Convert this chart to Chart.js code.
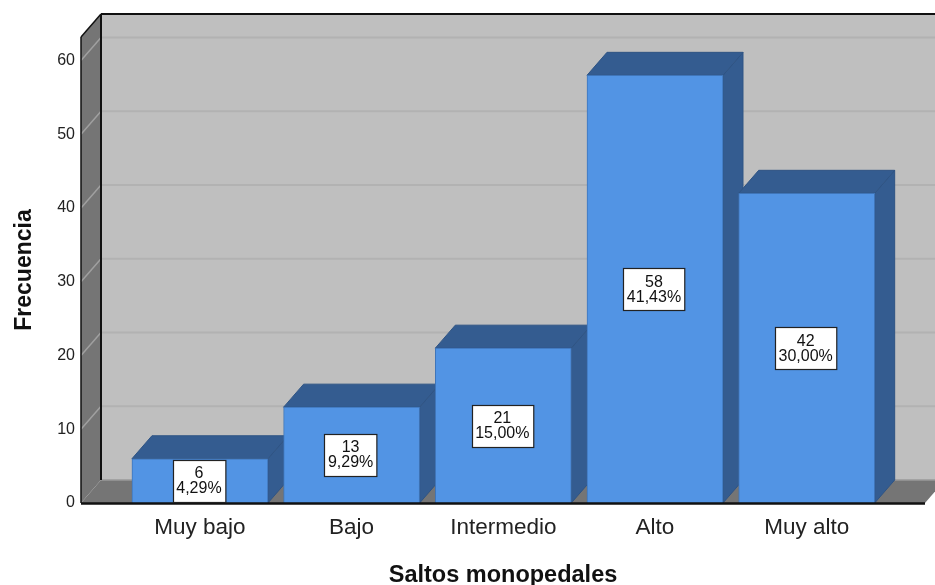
<!DOCTYPE html>
<html>
<head>
<meta charset="utf-8">
<title>Saltos monopedales</title>
<script src="https://cdn.jsdelivr.net/npm/chart.js@4"></script>
<style>
  html, body { margin: 0; padding: 0; background: #fff; }
  canvas { display: block; }
</style>
</head>
<body>
<canvas id="graficoSaltos" width="935" height="585"></canvas>
<script>
const categorias = ["Muy bajo", "Bajo", "Intermedio", "Alto", "Muy alto"];
const frecuencias = [6, 13, 21, 58, 42];
const porcentajes = ["4,29%", "9,29%", "15,00%", "41,43%", "30,00%"];
const ticksFrecuencia = [0, 10, 20, 30, 40, 50, 60];

// profundidad de la caja 3D
const DX = 20;
const DY = -23;

function poligono(ctx, puntos, relleno, trazo) {
  ctx.beginPath();
  puntos.forEach((p, i) => i ? ctx.lineTo(p[0], p[1]) : ctx.moveTo(p[0], p[1]));
  ctx.closePath();
  ctx.fillStyle = relleno;
  ctx.fill();
  if (trazo) {
    ctx.strokeStyle = trazo;
    ctx.lineWidth = 1;
    ctx.stroke();
  }
}

function linea(ctx, x1, y1, x2, y2, color, ancho) {
  ctx.beginPath();
  ctx.moveTo(x1, y1);
  ctx.lineTo(x2, y2);
  ctx.strokeStyle = color;
  ctx.lineWidth = ancho;
  ctx.stroke();
}

const caja3D = {
  id: "caja3D",
  beforeDatasetsDraw(chart) {
    const ctx = chart.ctx;
    const { left, right, top, bottom } = chart.chartArea;
    const yScale = chart.scales.y;
    ctx.save();

    // pared del fondo, pared lateral y suelo
    poligono(ctx, [[left + DX, top + DY], [right + DX, top + DY], [right + DX, bottom + DY], [left + DX, bottom + DY]], "#bfbfbf");
    poligono(ctx, [[left, top], [left + DX, top + DY], [left + DX, bottom + DY], [left, bottom]], "#757575");
    poligono(ctx, [[left, bottom], [left + DX, bottom + DY], [right + DX, bottom + DY], [right, bottom]], "#757575");

    // rejilla sobre el fondo y la pared lateral
    ticksFrecuencia.slice(1).forEach(v => {
      const y = yScale.getPixelForValue(v);
      linea(ctx, left + DX, y + DY, right + DX, y + DY, "#b2b2b2", 2);
      linea(ctx, left, y, left + DX, y + DY, "#a0a0a0", 1.5);
    });

    // marco
    linea(ctx, left + DX, bottom + DY, right + DX, bottom + DY, "#9a9a9a", 1.5);
    linea(ctx, left, bottom, left, top, "#111", 1.5);
    linea(ctx, left, top, left + DX, top + DY, "#111", 1.5);
    linea(ctx, left + DX, top + DY, right + DX, top + DY, "#111", 2);
    linea(ctx, left + DX, top + DY, left + DX, bottom + DY, "#111", 2);

    // caras superior y lateral de cada barra, de izquierda a derecha
    chart.getDatasetMeta(0).data.forEach(barra => {
      const izq = barra.x - barra.width / 2;
      const der = barra.x + barra.width / 2;
      poligono(ctx, [[der, barra.y], [der + DX, barra.y + DY], [der + DX, barra.base + DY], [der, barra.base]], "#345c90", "#2f5484");
      poligono(ctx, [[izq, barra.y], [izq + DX, barra.y + DY], [der + DX, barra.y + DY], [der, barra.y]], "#345c90", "#2f5484");
    });
    ctx.restore();
  },
  afterDatasetsDraw(chart) {
    const ctx = chart.ctx;
    const { left, right, bottom } = chart.chartArea;
    ctx.save();
    linea(ctx, left, bottom + 0.5, right, bottom + 0.5, "#111", 2.5);

    // etiquetas de frecuencia y porcentaje
    ctx.font = "16px 'Liberation Sans', Arial, sans-serif";
    ctx.textAlign = "center";
    ctx.textBaseline = "middle";
    chart.getDatasetMeta(0).data.forEach((barra, i) => {
      const medio = (barra.y + barra.base) / 2;
      const ancho = ctx.measureText(porcentajes[i]).width + 7;
      const alto = 42;
      const x = Math.round(barra.x - 1 - ancho / 2) + 0.5;
      const y = Math.round(medio - alto / 2) + 0.5;
      ctx.fillStyle = "#fff";
      ctx.fillRect(x, y, ancho, alto);
      ctx.strokeStyle = "#222";
      ctx.lineWidth = 1.2;
      ctx.strokeRect(x, y, ancho, alto);
      ctx.fillStyle = "#111";
      ctx.fillText(String(frecuencias[i]), barra.x - 1, medio - 7);
      ctx.fillText(porcentajes[i], barra.x - 1, medio + 8);
    });
    ctx.restore();
  }
};

const ctx = document.getElementById("graficoSaltos").getContext("2d");
new Chart(ctx, {
  type: "bar",
  plugins: [caja3D],
  data: {
    datasets: [
      {
        label: "Frecuencia",
        data: frecuencias.map((v, i) => ({ x: i, y: v })),
        backgroundColor: "#5294e4",
        borderColor: "#3f75b8",
        borderWidth: 1,
        barThickness: 136
      }
    ]
  },
  options: {
    responsive: false,
    animation: false,
    layout: { padding: { top: 37, right: 10, left: 0, bottom: 0 } },
    plugins: {
      legend: { display: false },
      title: { display: false },
      tooltip: { enabled: false }
    },
    scales: {
      x: {
        type: "linear",
        offset: false,
        min: -0.784,
        max: 4.78,
        grid: { display: false, offset: false, drawTicks: false },
        border: { display: false },
        afterBuildTicks: axis => { axis.ticks = categorias.map((_, i) => ({ value: i })); },
        afterFit: axis => { axis.height = 82; },
        ticks: {
          autoSkip: false,
          maxRotation: 0,
          padding: 11,
          color: "#222",
          font: { family: "'Liberation Sans', Arial, sans-serif", size: 22.5 },
          callback: v => categorias[v]
        },
        title: {
          display: true,
          text: "Saltos monopedales",
          color: "#111",
          padding: { top: 12, bottom: -5 },
          font: { family: "'Liberation Sans', Arial, sans-serif", size: 23.5, weight: "bold" }
        }
      },
      y: {
        min: 0,
        max: 63.2,
        grid: { display: false, drawTicks: false },
        border: { display: false },
        afterBuildTicks: axis => { axis.ticks = ticksFrecuencia.map(v => ({ value: v })); },
        afterFit: axis => { axis.width = 81; },
        ticks: {
          padding: 6,
          color: "#222",
          font: { family: "'Liberation Sans', Arial, sans-serif", size: 16 }
        },
        title: {
          display: true,
          text: "Frecuencia",
          color: "#111",
          padding: { top: 11, bottom: 0 },
          font: { family: "'Liberation Sans', Arial, sans-serif", size: 23, weight: "bold" }
        }
      }
    }
  }
});
</script>
</body>
</html>
